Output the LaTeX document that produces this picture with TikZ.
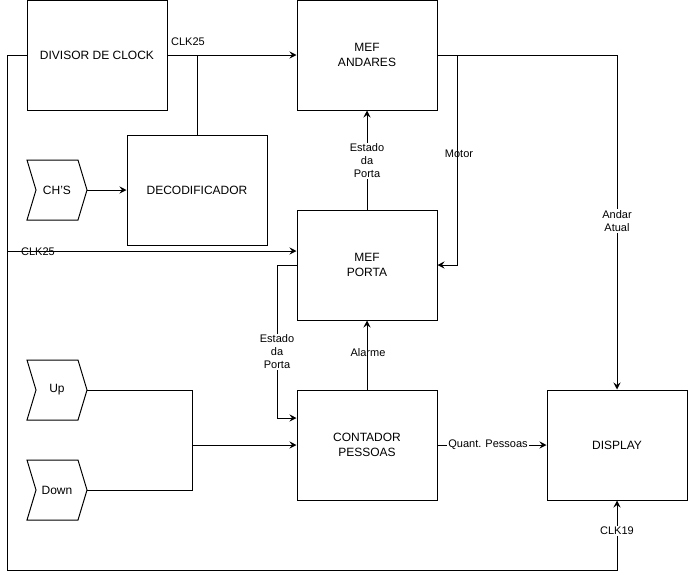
\documentclass[tikz,border=0pt]{standalone}
\usepackage{fontspec}
\setmainfont{Liberation Sans}
\usetikzlibrary{arrows.meta}
\begin{document}
\begin{tikzpicture}[x=1pt,y=-1pt,
  blk/.style={draw, line width=1pt, minimum width=140pt, minimum height=110pt, align=center, inner sep=0pt, font=\fontsize{12}{14.5}\selectfont},
  chev/.style={draw, line width=1pt, line join=miter},
  chtext/.style={font=\fontsize{12}{14.5}\selectfont, inner sep=0pt},
  wire/.style={line width=1pt},
  arr/.style={wire, -{Stealth[length=7pt,width=7pt,inset=2.5pt]}},
  lbl/.style={font=\fontsize{11}{13}\selectfont, align=center, inner sep=1pt},
  lblw/.style={lbl, fill=white}
]
\useasboundingbox (0,0) rectangle (688,579);
% boxes
\node[blk] (div) at (97,55) {DIVISOR DE CLOCK};
\node[blk] (mefA) at (367,55) {MEF\\ANDARES};
\node[blk] (dec) at (197,190) {DECODIFICADOR};
\node[blk] (mefP) at (367,265) {MEF\\PORTA};
\node[blk] (cont) at (367,445) {CONTADOR\\PESSOAS};
\node[blk] (disp) at (617,445) {DISPLAY};
% chevrons
\draw[chev] (27,160) -- (78,160) -- (87,190) -- (78,220) -- (27,220) -- (36,190) -- cycle;
\node[chtext] (chs) at (57,190) {CH'S};
\coordinate (chsout) at (87,190);
\draw[chev] (27,360) -- (78,360) -- (87,390) -- (78,420) -- (27,420) -- (36,390) -- cycle;
\node[chtext] (up) at (57,390) {Up};
\coordinate (upout) at (87,390);
\draw[chev] (27,460) -- (78,460) -- (87,490) -- (78,520) -- (27,520) -- (36,490) -- cycle;
\node[chtext] (down) at (57,490) {Down};
\coordinate (downout) at (87,490);
% helper coordinates
\coordinate (clkbr) at (197,55);
\coordinate (lft) at (7,55);
\coordinate (lftbot) at (7,570);
\coordinate (rbot) at (617,570);
\coordinate (clkP) at (7,251);
\coordinate (rtop) at (617,55);
\coordinate (mtop) at (457,55);
\coordinate (mbot) at (457,265);
\coordinate (epl) at (277,265);
\coordinate (epb) at (277,418);
\coordinate (mg) at (192,445);
\coordinate (mgu) at (192,390);
\coordinate (mgd) at (192,490);
% connectors
\draw[arr] (div.east) -- (mefA.west);
\node[lbl] (clk25a) at (188,42) {CLK25};
\draw[wire] (clkbr) -- (dec.north);
\draw[arr] (div.west) -- (lft) -- (lftbot) -- (rbot) -- (disp.south);
\node[lblw] (clk19) at (617,531) {CLK19};
\draw[arr] (clkP) -- (clkP -| mefP.west);
\node[lbl] (clk25b) at (38,252) {CLK25};
\draw[arr] (chsout) -- (dec.west);
\draw[arr] (mefA.east) -- (rtop) -- (disp.north);
\node[lblw] (andar) at (617,221) {Andar\\Atual};
\draw[arr] (mtop) -- (mbot) -- (mefP.east);
\node[lbl] (motor) at (459,154) {Motor};
\draw[arr] (mefP.north) -- (mefA.south);
\node[lblw] (ep1) at (367,161) {Estado\\da\\Porta};
\draw[arr] (mefP.west) -- (epl) -- (epb) -- (epb -| cont.west);
\node[lblw] (ep2) at (277,352) {Estado\\da\\Porta};
\draw[arr] (cont.north) -- (mefP.south);
\node[lbl] (alarme) at (368,353) {Alarme};
\draw[wire] (upout) -- (mgu) -- (mgd) -- (downout);
\draw[arr] (mg) -- (cont.west);
\draw[arr] (cont.east) -- (disp.west);
\node[lblw] (qp) at (488,445) {Quant. Pessoas};
\end{tikzpicture}
\end{document}
